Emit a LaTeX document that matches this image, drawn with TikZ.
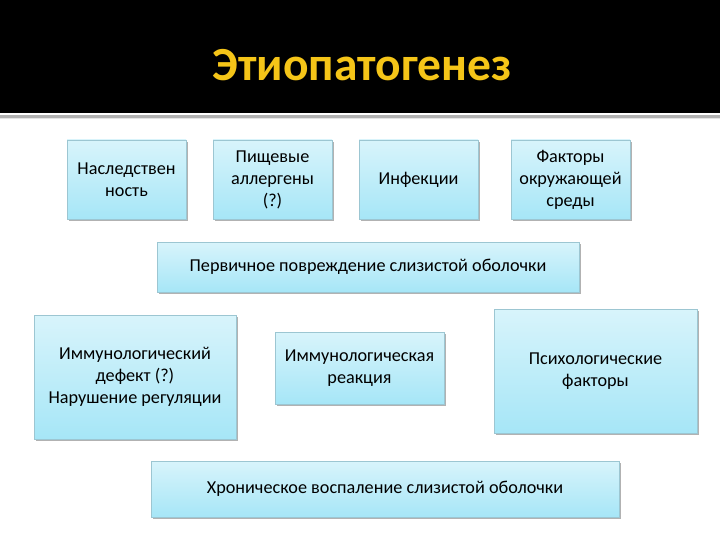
\documentclass[tikz,border=0pt]{standalone}
\usepackage{fontspec}
\setmainfont{Carlito}
\usetikzlibrary{shadows}
\definecolor{titlegold}{HTML}{F5C518}
\definecolor{boxtop}{HTML}{D8F4FB}
\definecolor{boxbot}{HTML}{A6E6F7}
\definecolor{boxline}{HTML}{9CC6D2}
\tikzset{
  cbox/.style={draw=boxline, line width=0.8pt, top color=boxtop, bottom color=boxbot,
    align=center, inner sep=2pt, font=\fontsize{18.2}{22}\selectfont, text=black,
    drop shadow={shadow xshift=1.5pt, shadow yshift=-2pt, fill=black, opacity=0.3}},
}
\begin{document}
\begin{tikzpicture}[x=1pt,y=-1pt]
\useasboundingbox (0,0) rectangle (720,540);
\fill[black] (0,0) rectangle (720,113);
\fill[black!30] (0,115.5) rectangle (720,118);
\fill[black!10] (0,118) rectangle (720,119.5);
\node[text=titlegold, font=\fontsize{47.5}{52}\selectfont\bfseries] (title) at (362,65) {Этиопатогенез};
\node[cbox, minimum width=119pt, minimum height=79pt] (n1) at (126.5,179.5) {Наследствен\\ность};
\node[cbox, minimum width=119pt, minimum height=79pt] (n2) at (272.5,179.5) {Пищевые\\аллергены\\(?)};
\node[cbox, minimum width=119pt, minimum height=79pt] (n3) at (418.5,179.5) {Инфекции};
\node[cbox, minimum width=119pt, minimum height=79pt] (n4) at (570.5,179.5) {Факторы\\окружающей\\среды};
\node[cbox, minimum width=422pt, minimum height=50pt] (n5) at (368,267) {Первичное повреждение слизистой оболочки};
\node[cbox, minimum width=202pt, minimum height=124pt] (n6) at (135,377) {Иммунологический\\дефект (?)\\Нарушение регуляции};
\node[cbox, minimum width=169pt, minimum height=72pt] (n7) at (359.5,368) {Иммунологическая\\реакция};
\node[cbox, minimum width=203pt, minimum height=124pt] (n8) at (595.5,371) {Психологические\\факторы};
\node[cbox, minimum width=468pt, minimum height=56pt] (n9) at (385,489) {Хроническое воспаление слизистой оболочки};
\end{tikzpicture}
\end{document}
